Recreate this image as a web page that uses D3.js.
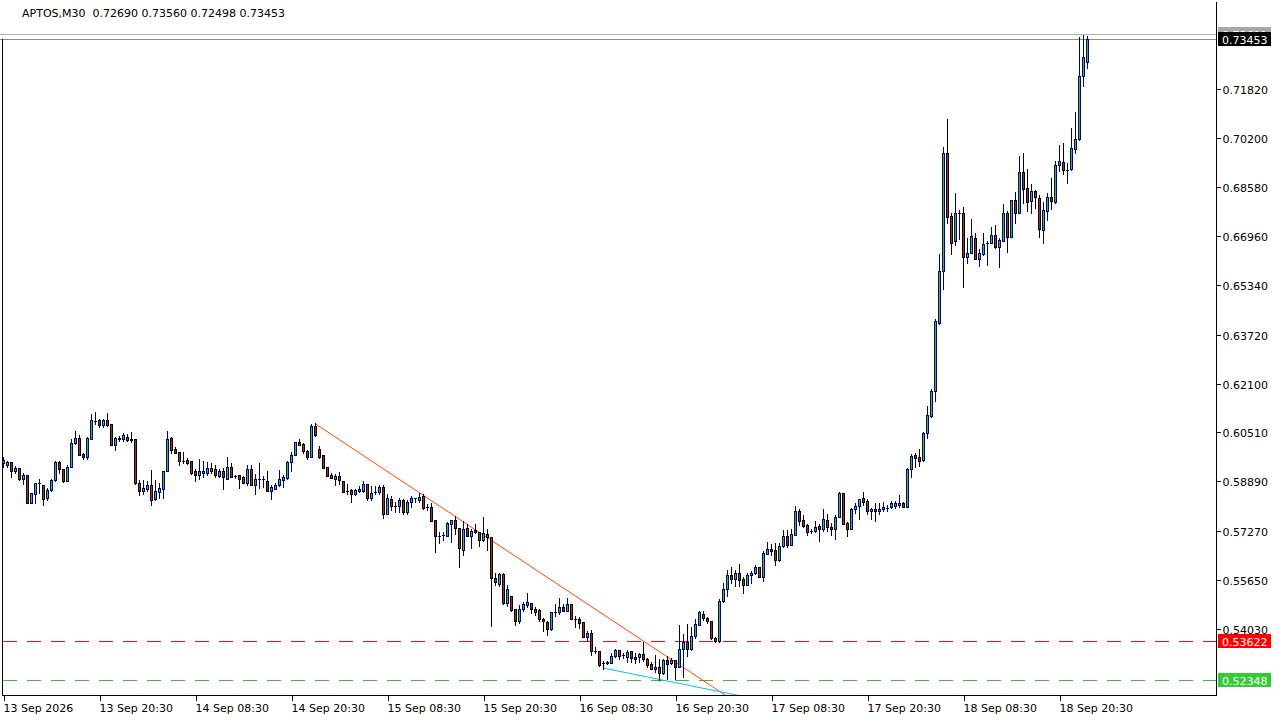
<!DOCTYPE html>
<html><head><meta charset="utf-8">
<script src="https://cdn.jsdelivr.net/npm/d3@7"></script>
<style>
html,body{margin:0;padding:0;background:#fff;}
svg{display:block;font-family:"DejaVu Sans",sans-serif;}
</style></head><body>
<svg id="c" width="1280" height="720"></svg>
<script>
const symbol = "APTOS,M30";
const opens = [
.5949,.5943,.5952,.5923,.5933,.5896,.5910,.5817,.5847,.5883,
.5877,.5834,.5860,.5893,.5952,.5929,.5890,.5936,.6015,.6032,
.5979,.5969,.6028,.6087,.6091,.6074,.6091,.6078,.6008,.6032,
.6028,.6035,.6028,.6028,.5883,.5857,.5864,.5877,.5831,.5854,
.5864,.5923,.6032,.5995,.5985,.5956,.5959,.5956,.5923,.5910,
.5916,.5916,.5933,.5929,.5906,.5923,.5896,.5936,.5906,.5910,
.5903,.5883,.5929,.5877,.5896,.5896,.5890,.5857,.5864,.5877,
.5893,.5900,.5952,.5976,.6018,.6012,.5989,.5969,.6071,.5995,
.5976,.5936,.5910,.5896,.5906,.5890,.5857,.5860,.5847,.5857,
.5857,.5880,.5834,.5854,.5854,.5870,.5781,.5831,.5808,.5808,
.5827,.5788,.5821,.5834,.5827,.5841,.5804,.5804,.5761,.5709,
.5712,.5709,.5748,.5761,.5735,.5663,.5735,.5709,.5729,.5722,
.5696,.5715,.5706,.5571,.5551,.5584,.5488,.5511,.5468,.5429,
.5468,.5482,.5488,.5468,.5465,.5436,.5426,.5403,.5459,.5459,
.5475,.5462,.5485,.5436,.5436,.5426,.5376,.5389,.5330,.5330,
.5291,.5291,.5291,.5314,.5333,.5317,.5310,.5330,.5310,.5310,
.5320,.5304,.5287,.5271,.5277,.5258,.5301,.5291,.5301,.5277,
.5337,.5360,.5337,.5380,.5416,.5452,.5439,.5429,.5373,.5363,
.5495,.5534,.5580,.5567,.5587,.5567,.5547,.5580,.5587,.5607,
.5574,.5650,.5666,.5663,.5630,.5676,.5709,.5679,.5712,.5791,
.5761,.5745,.5725,.5725,.5742,.5732,.5761,.5738,.5732,.5771,
.5850,.5752,.5732,.5798,.5808,.5834,.5824,.5791,.5798,.5791,
.5798,.5801,.5804,.5808,.5811,.5817,.5804,.5929,.5976,.5969,
.5959,.6048,.6104,.6186,.6410,.6581,.6970,.6762,.6680,.6772,
.6772,.6627,.6641,.6690,.6621,.6637,.6674,.6674,.6700,.6660,
.6680,.6772,.6693,.6815,.6772,.6907,.6855,.6812,.6845,.6822,
.6716,.6779,.6825,.6809,.6930,.6940,.6914,.6917,.6983,.7016,
.7223,.72690];
const highs = [
.5969,.5956,.5952,.5939,.5933,.5916,.5910,.5850,.5883,.5896,
.5877,.5867,.5896,.5956,.5956,.5929,.5943,.6028,.6055,.6041,
.5982,.6035,.6110,.6117,.6094,.6094,.6114,.6078,.6035,.6038,
.6048,.6045,.6051,.6028,.5893,.5893,.5890,.5926,.5893,.5883,
.5923,.6055,.6035,.6002,.5985,.5985,.5966,.5956,.5929,.5962,
.5956,.5952,.5949,.5943,.5929,.5933,.5969,.5949,.5910,.5910,
.5906,.5943,.5943,.5913,.5949,.5906,.5923,.5877,.5883,.5926,
.5910,.5956,.5985,.6018,.6028,.6015,.5992,.6078,.6081,.6005,
.5976,.5936,.5916,.5913,.5920,.5890,.5880,.5864,.5864,.5873,
.5890,.5880,.5873,.5873,.5877,.5877,.5847,.5841,.5821,.5834,
.5831,.5827,.5841,.5834,.5850,.5847,.5814,.5817,.5761,.5722,
.5722,.5755,.5761,.5775,.5735,.5758,.5748,.5732,.5748,.5722,
.5771,.5732,.5706,.5587,.5587,.5587,.5547,.5511,.5468,.5482,
.5492,.5521,.5488,.5475,.5468,.5439,.5429,.5459,.5485,.5505,
.5485,.5505,.5485,.5445,.5442,.5426,.5396,.5399,.5343,.5330,
.5297,.5297,.5324,.5337,.5333,.5324,.5333,.5330,.5324,.5324,
.5360,.5307,.5294,.5317,.5304,.5304,.5314,.5307,.5301,.5416,
.5386,.5419,.5409,.5436,.5462,.5462,.5442,.5429,.5376,.5501,
.5554,.5597,.5607,.5597,.5617,.5574,.5587,.5594,.5613,.5607,
.5659,.5689,.5682,.5686,.5686,.5729,.5729,.5732,.5808,.5798,
.5778,.5748,.5732,.5758,.5748,.5798,.5781,.5752,.5778,.5854,
.5850,.5755,.5801,.5817,.5831,.5854,.5831,.5801,.5817,.5817,
.5821,.5811,.5824,.5824,.5844,.5821,.5933,.5979,.5982,.5995,
.6051,.6137,.6193,.6423,.6637,.6990,.7082,.6772,.6838,.6782,
.6792,.6690,.6753,.6707,.6654,.6707,.6680,.6726,.6733,.6690,
.6802,.6779,.6815,.6842,.6960,.6970,.6917,.6868,.6848,.6832,
.6809,.6838,.6888,.6944,.6996,.7003,.6937,.7052,.7105,.7352,
.7358,.73560];
const lows = [
.5936,.5936,.5903,.5916,.5893,.5880,.5817,.5817,.5817,.5850,
.5811,.5827,.5857,.5890,.5916,.5887,.5890,.5936,.6012,.5976,
.5962,.5962,.6028,.6078,.6068,.6068,.6071,.6008,.5992,.6022,
.6022,.6022,.6018,.5880,.5844,.5847,.5857,.5811,.5827,.5834,
.5834,.5923,.5982,.5982,.5943,.5949,.5946,.5913,.5890,.5896,
.5903,.5910,.5916,.5903,.5903,.5864,.5896,.5903,.5900,.5867,
.5883,.5877,.5877,.5847,.5867,.5870,.5857,.5831,.5864,.5873,
.5870,.5896,.5923,.5976,.6008,.5982,.5962,.5969,.6038,.5966,
.5933,.5906,.5900,.5877,.5880,.5854,.5847,.5821,.5844,.5854,
.5854,.5827,.5827,.5847,.5847,.5768,.5781,.5794,.5788,.5788,
.5781,.5781,.5804,.5821,.5821,.5798,.5794,.5758,.5656,.5686,
.5696,.5709,.5689,.5715,.5607,.5646,.5709,.5669,.5719,.5676,
.5692,.5663,.5412,.5547,.5544,.5485,.5478,.5462,.5416,.5422,
.5462,.5475,.5455,.5449,.5429,.5396,.5383,.5399,.5445,.5452,
.5462,.5462,.5436,.5409,.5406,.5376,.5363,.5317,.5324,.5281,
.5271,.5287,.5291,.5310,.5304,.5307,.5294,.5294,.5291,.5294,
.5297,.5277,.5271,.5261,.5235,.5254,.5238,.5287,.5238,.5277,
.5245,.5314,.5333,.5373,.5416,.5432,.5422,.5370,.5360,.5360,
.5492,.5511,.5554,.5544,.5544,.5521,.5547,.5554,.5584,.5574,
.5561,.5650,.5646,.5613,.5627,.5673,.5673,.5679,.5712,.5745,
.5738,.5712,.5719,.5722,.5692,.5725,.5725,.5712,.5699,.5771,
.5748,.5709,.5732,.5785,.5765,.5811,.5781,.5765,.5758,.5781,
.5791,.5791,.5801,.5801,.5804,.5804,.5804,.5903,.5936,.5939,
.5956,.6032,.6101,.6153,.6407,.6522,.6739,.6637,.6667,.6687,
.6529,.6608,.6641,.6621,.6598,.6634,.6601,.6674,.6657,.6595,
.6680,.6644,.6693,.6739,.6772,.6805,.6779,.6772,.6789,.6693,
.6674,.6749,.6786,.6805,.6911,.6901,.6871,.6914,.6970,.7013,
.7190,.72498];
const closes = [
.5959,.5952,.5923,.5933,.5896,.5910,.5817,.5850,.5883,.5883,
.5831,.5860,.5893,.5952,.5929,.5890,.5936,.6015,.6032,.5976,
.5969,.6032,.6091,.6087,.6074,.6091,.6074,.6008,.6032,.6028,
.6041,.6025,.6025,.5883,.5857,.5867,.5877,.5827,.5857,.5867,
.5923,.6028,.5992,.5982,.5956,.5956,.5949,.5916,.5910,.5923,
.5923,.5933,.5923,.5910,.5923,.5903,.5936,.5903,.5906,.5896,
.5883,.5929,.5877,.5896,.5896,.5896,.5857,.5870,.5877,.5896,
.5903,.5952,.5976,.6018,.6008,.5989,.5969,.6071,.6041,.5969,
.5933,.5906,.5900,.5906,.5893,.5854,.5857,.5847,.5860,.5864,
.5880,.5834,.5850,.5854,.5870,.5781,.5834,.5808,.5808,.5827,
.5788,.5821,.5834,.5834,.5837,.5801,.5804,.5758,.5709,.5709,
.5712,.5752,.5761,.5735,.5669,.5732,.5709,.5725,.5722,.5696,
.5719,.5706,.5571,.5557,.5584,.5488,.5534,.5465,.5429,.5468,
.5485,.5492,.5468,.5459,.5436,.5429,.5403,.5459,.5459,.5475,
.5462,.5485,.5436,.5436,.5422,.5376,.5389,.5330,.5330,.5284,
.5291,.5294,.5314,.5333,.5314,.5317,.5327,.5307,.5304,.5320,
.5304,.5284,.5271,.5277,.5258,.5301,.5287,.5301,.5277,.5337,
.5360,.5337,.5380,.5419,.5459,.5439,.5429,.5373,.5363,.5495,
.5534,.5580,.5567,.5587,.5564,.5547,.5580,.5587,.5607,.5574,
.5653,.5666,.5659,.5630,.5676,.5709,.5679,.5715,.5791,.5758,
.5742,.5722,.5725,.5738,.5732,.5765,.5738,.5732,.5771,.5850,
.5748,.5732,.5798,.5808,.5831,.5821,.5791,.5798,.5791,.5798,
.5804,.5801,.5817,.5817,.5817,.5804,.5929,.5972,.5966,.5956,
.6048,.6107,.6186,.6417,.6581,.6970,.6759,.6674,.6772,.6772,
.6627,.6641,.6697,.6621,.6641,.6670,.6674,.6700,.6660,.6683,
.6772,.6693,.6815,.6772,.6907,.6851,.6809,.6845,.6825,.6720,
.6782,.6825,.6812,.6930,.6944,.6914,.6914,.6986,.7016,.7223,
.7286,.73453];

const askPrice = 0.73611;
const bidPrice = 0.73453;
const levelValues = [0.53622, 0.52348];
const levelLabels = ["0.53622", "0.52348"];
const levelColors = ["#ff0000", "#32cd32"];
const levelLineColors = ["#e01010", "#3cb83c"];
const yTickValues = [0.71820,0.70200,0.68580,0.66960,0.65340,0.63720,0.62100,0.60510,0.58890,0.57270,0.55650,0.54030];
const yTickLabels = ["0.71820","0.70200","0.68580","0.66960","0.65340","0.63720","0.62100","0.60510","0.58890","0.57270","0.55650","0.54030"];
const xTickBars = [0,24,48,72,96,120,144,168,192,216,240,264];
const xTickLabels = ["13 Sep 2026","13 Sep 20:30","14 Sep 08:30","14 Sep 20:30","15 Sep 08:30","15 Sep 20:30","16 Sep 08:30","16 Sep 20:30","17 Sep 08:30","17 Sep 20:30","18 Sep 08:30","18 Sep 20:30"];
const trendBars = [[78,160],[150,168]];
const trendPrices = [[0.6078,0.5363],[0.5274,0.5226]];
const trendColors = ["#ff4500","#00bfff"];

const candles = opens.map((o,i)=>({i, o, h:highs[i], l:lows[i], c:closes[i]}));

const W=1280, H=720;
const plotL=2, plotR=1216, plotB=695;
const svg = d3.select("#c");
const x = d3.scaleLinear().domain([0, candles.length-1]).range([3, 3+4*(candles.length-1)]);
const y = d3.scaleLinear().domain([0.52348, 0.73453]).range([680, 39]);

svg.append("rect").attr("width",W).attr("height",H).attr("fill","#fff");

const defs = svg.append("defs");
defs.append("clipPath").attr("id","plot")
  .append("rect").attr("x",plotL).attr("y",0).attr("width",plotR-plotL).attr("height",plotB);

// ask/bid lines
svg.append("line").attr("x1",0).attr("x2",plotR).attr("y1",Math.round(y(askPrice))+0.5).attr("y2",Math.round(y(askPrice))+0.5)
  .attr("stroke","#b4b4b4");
svg.append("line").attr("x1",0).attr("x2",plotR).attr("y1",Math.round(y(bidPrice))+0.5).attr("y2",Math.round(y(bidPrice))+0.5)
  .attr("stroke","#8c8c8c");

// level lines
svg.append("g").attr("shape-rendering","crispEdges").selectAll("line").data(levelValues).join("line")
  .attr("x1",plotL+1).attr("x2",plotR)
  .attr("y1",d=>Math.round(y(d))+0.5).attr("y2",d=>Math.round(y(d))+0.5)
  .attr("stroke",(d,i)=>levelLineColors[i]).attr("stroke-dasharray","14,10");

// trendlines
const tg = svg.append("g").attr("clip-path","url(#plot)");
trendBars.forEach((b,k)=>{
  const p = trendPrices[k];
  const slope = (p[1]-p[0])/(b[1]-b[0]);
  const endBar = 320;
  tg.append("line")
    .attr("x1",x(b[0])+0.5).attr("y1",y(p[0]))
    .attr("x2",x(endBar)+0.5).attr("y2",y(p[0]+slope*(endBar-b[0])))
    .attr("stroke",trendColors[k]).attr("stroke-width",1);
});

// candles
const cg = svg.append("g").attr("shape-rendering","crispEdges");
const cs = cg.selectAll("g.candle").data(candles).join("g").attr("class","candle");
cs.each(function(d){
  const g = d3.select(this);
  const cx = Math.round(x(d.i));
  const bull = d.c >= d.o;
  const stroke = bull ? "#000080" : "#000000";
  const fill = bull ? "#22cc22" : "#a52a2a";
  const hi = Math.round(y(d.h)), lo = Math.round(y(d.l));
  g.append("line").attr("x1",cx+0.5).attr("x2",cx+0.5).attr("y1",hi).attr("y2",lo+1).attr("stroke",stroke);
  const t = Math.round(y(Math.max(d.o,d.c))), b = Math.round(y(Math.min(d.o,d.c)));
  if (b - t < 1) {
    g.append("line").attr("x1",cx-1).attr("x2",cx+2).attr("y1",t+0.5).attr("y2",t+0.5).attr("stroke",stroke);
  } else {
    g.append("rect").attr("x",cx-0.5).attr("y",t+0.5).attr("width",2).attr("height",b-t)
      .attr("fill",fill).attr("stroke",stroke);
  }
});

// frame
const fg = svg.append("g").attr("shape-rendering","crispEdges");
fg.append("line").attr("x1",plotL+0.5).attr("x2",plotL+0.5).attr("y1",39).attr("y2",plotB+1).attr("stroke","#000");
fg.append("line").attr("x1",plotR+0.5).attr("x2",plotR+0.5).attr("y1",2).attr("y2",plotB+1).attr("stroke","#000");
fg.append("line").attr("x1",plotL).attr("x2",plotR+1).attr("y1",plotB+0.5).attr("y2",plotB+0.5).attr("stroke","#000");

// right axis
const ya = svg.append("g").attr("transform",`translate(${plotR+0.5},0)`)
  .call(d3.axisRight(y).tickValues(yTickValues).tickFormat((d,i)=>yTickLabels[i]).tickSize(4).tickPadding(2));
ya.select(".domain").remove();
ya.selectAll(".tick line").attr("stroke","#000").attr("shape-rendering","crispEdges");
ya.selectAll(".tick text").attr("font-family","DejaVu Sans").attr("font-size",11).attr("fill","#000").attr("dy","0.45em");
ya.selectAll(".tick").attr("transform",d=>`translate(0,${Math.round(y(d))+0.5})`);

// bottom axis
const xa = svg.append("g").attr("transform",`translate(0.5,${plotB+0.5})`)
  .call(d3.axisBottom(x).tickValues(xTickBars).tickFormat((d,i)=>xTickLabels[i]).tickSize(5));
xa.select(".domain").remove();
xa.selectAll(".tick line").attr("stroke","#000").attr("shape-rendering","crispEdges");
xa.selectAll(".tick text").attr("font-family","DejaVu Sans").attr("font-size",11).attr("fill","#000")
  .attr("text-anchor","start").attr("x",-0.5).attr("y",16.5).attr("dy",0);

// price labels
function priceLabel(v, txt, bg, fg, clipId){
  const cy = Math.round(y(v));
  const g = svg.append("g");
  if (clipId) g.attr("clip-path",`url(#${clipId})`);
  g.append("rect").attr("x",1218).attr("y",cy-7).attr("width",53).attr("height",14).attr("fill",bg);
  g.append("text").attr("x",1222).attr("y",cy+5).attr("font-size",11).attr("fill",fg).text(txt);
}
// ask label is mostly covered by the bid label: only its top strip shows
const bidTop = Math.round(y(bidPrice))-7;
defs.append("clipPath").attr("id","askclip")
  .append("rect").attr("x",1210).attr("y",0).attr("width",70).attr("height",bidTop);
priceLabel(askPrice, d3.format(".5f")(askPrice), "#a8a8a8", "#fff", "askclip");
priceLabel(bidPrice, d3.format(".5f")(bidPrice), "#000", "#fff");
levelValues.forEach((v,i)=>priceLabel(v, levelLabels[i], levelColors[i], "#fff"));

// title
const last = candles[candles.length-1];
svg.append("text").attr("x",22).attr("y",17).attr("font-size",11).attr("fill","#000")
  .attr("xml:space","preserve")
  .text(`${symbol}  ${d3.format(".5f")(last.o)} ${d3.format(".5f")(last.h)} ${d3.format(".5f")(last.l)} ${d3.format(".5f")(last.c)}`);
</script>
</body></html>
